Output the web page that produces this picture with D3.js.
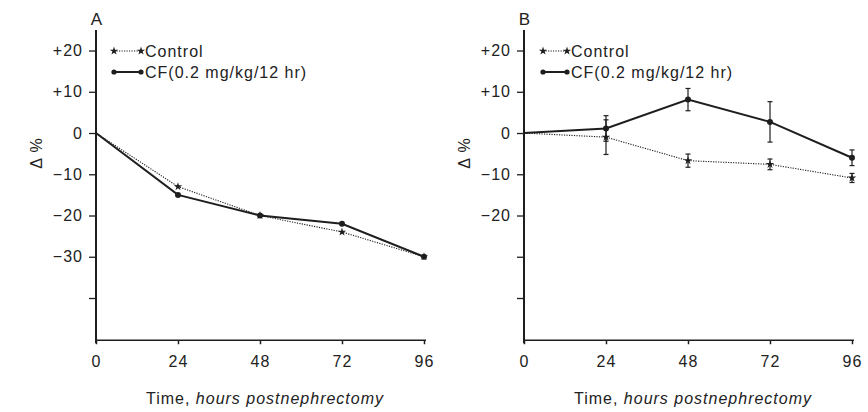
<!DOCTYPE html>
<html><head><meta charset="utf-8">
<script src="https://cdn.jsdelivr.net/npm/d3@7"></script>
<style>
body{margin:0;background:#fff;}
text{font-family:"Liberation Sans",Arial,sans-serif;fill:#222;letter-spacing:1px;}
</style></head>
<body><svg id="c" width="868" height="412"></svg>
<script>
const hours = [0, 24, 48, 72, 96];
const xTicks = [0, 24, 48, 72, 96];
const yTicks = [20, 10, 0, -10, -20, -30, -40];
const yTickLabelsA = ["+20", "+10", "0", "\u221210", "\u221220", "\u221230", ""];
const yTickLabelsB = ["+20", "+10", "0", "\u221210", "\u221220", "", ""];
const seriesNames = ["Control", "CF(0.2 mg/kg/12 hr)"];
// Panel A
const controlA = [0, -13, -20, -24, -30];
const cfA = [0, -15, -20, -22, -30];
// Panel B
const controlB = [0, -1, -6.7, -7.6, -10.9];
const controlBErr = [0, 4.2, 1.6, 1.3, 1.1];
const cfB = [0, 1.1, 8.1, 2.7, -6.0];
const cfBErr = [0, 3.1, 2.7, 4.9, 1.9];

const svg = d3.select("#c");
const ink = "#1e1e1e";

function panel(opt){
  const x = d3.scaleLinear().domain([0,96]).range([opt.x0, opt.x0+328]);
  const y = d3.scaleLinear().domain([-50,25]).range([339.25, 29.9]);
  const g = svg.append("g");
  const ya = d3.axisLeft(y).tickValues(yTicks).tickSize(7).tickPadding(6)
    .tickFormat((d,i)=>opt.ylab[i]);
  const yg = g.append("g").attr("transform",`translate(${opt.x0},0)`).call(ya);
  yg.select(".domain").remove();
  yg.selectAll("line").attr("stroke",ink).attr("stroke-width",1.3);
  yg.selectAll("text").style("font-size","16px").attr("fill",ink);
  g.append("line").attr("x1",opt.x0).attr("x2",opt.x0).attr("y1",29.9).attr("y2",y(-50)+4)
    .attr("stroke",ink).attr("stroke-width",2);
  const xa = d3.axisBottom(x).tickValues(xTicks).tickSize(4).tickPadding(11);
  const xg = g.append("g").attr("transform",`translate(0,${y(-50)+1})`).call(xa);
  xg.select(".domain").remove();
  xg.selectAll("line").attr("stroke",ink).attr("stroke-width",1.5);
  xg.selectAll("text").style("font-size","16px").attr("fill",ink);
  g.append("line").attr("x1",opt.x0).attr("x2",x(96)+2).attr("y1",y(-50)+1).attr("y2",y(-50)+1)
    .attr("stroke",ink).attr("stroke-width",1.6);
  g.append("text").attr("x",opt.x0+1).attr("y",25).attr("text-anchor","middle")
    .style("font-size","17px").text(opt.title);
  const xt = g.append("text").attr("x",x(48)+5).attr("y",404).attr("text-anchor","middle")
    .style("font-size","16px");
  xt.append("tspan").text("Time, ");
  xt.append("tspan").style("font-style","italic").text("hours postnephrectomy");
  g.append("text").attr("transform",`translate(${opt.x0-54},153) rotate(-90)`)
    .attr("text-anchor","middle").style("font-size","16px").text("\u0394 %");

  const line = d3.line().x((d,i)=>x(hours[i])).y(d=>y(d));
  function errs(vals, er){
    vals.forEach((v,i)=>{
      if(!er[i]) return;
      const xi = x(hours[i]);
      g.append("line").attr("x1",xi).attr("x2",xi).attr("y1",y(v+er[i])).attr("y2",y(v-er[i]))
        .attr("stroke",ink).attr("stroke-width",1.2);
      [v+er[i], v-er[i]].forEach(e=>{
        g.append("line").attr("x1",xi-2.5).attr("x2",xi+2.5).attr("y1",y(e)).attr("y2",y(e))
          .attr("stroke",ink).attr("stroke-width",1.2);
      });
    });
  }
  if(opt.cErr) errs(opt.c, opt.cErr);
  if(opt.fErr) errs(opt.f, opt.fErr);
  g.append("path").attr("d",line(opt.c)).attr("fill","none").attr("stroke",ink)
    .attr("stroke-width",1.1).attr("stroke-dasharray","1.2,1.3");
  g.append("path").attr("d",line(opt.f)).attr("fill","none").attr("stroke",ink)
    .attr("stroke-width",2);
  const star = d3.symbol().type(d3.symbolStar).size(22);
  opt.c.forEach((v,i)=>{ if(i>0) g.append("path").attr("d",star())
    .attr("transform",`translate(${x(hours[i])},${y(v)})`).attr("fill",ink); });
  opt.f.forEach((v,i)=>{ if(i>0) g.append("circle").attr("cx",x(hours[i])).attr("cy",y(v))
    .attr("r",3).attr("fill",ink); });
  const lx = opt.lx, lw = opt.lw;
  [[51,"1.2,1.3",1.1,"c"],[72,null,2,"f"]].forEach((r,k)=>{
    const ln = g.append("line").attr("x1",lx).attr("x2",lx+lw).attr("y1",r[0]).attr("y2",r[0])
      .attr("stroke",ink).attr("stroke-width",r[2]);
    if(r[1]) ln.attr("stroke-dasharray",r[1]);
    [lx, lx+lw].forEach(px=>{
      if(r[3]==="c") g.append("path").attr("d",star()).attr("transform",`translate(${px},${r[0]})`).attr("fill",ink);
      else g.append("circle").attr("cx",px).attr("cy",r[0]).attr("r",2.6).attr("fill",ink);
    });
    g.append("text").attr("x",lx+lw+4).attr("y",r[0]+6).style("font-size","16px").text(seriesNames[k]);
  });
}

panel({x0:96, title:"A", ylab:yTickLabelsA, c:controlA, f:cfA, lx:114, lw:27});
panel({x0:524, title:"B", ylab:yTickLabelsB, c:controlB, cErr:controlBErr, f:cfB, fErr:cfBErr, lx:543, lw:24});
</script></body></html>
